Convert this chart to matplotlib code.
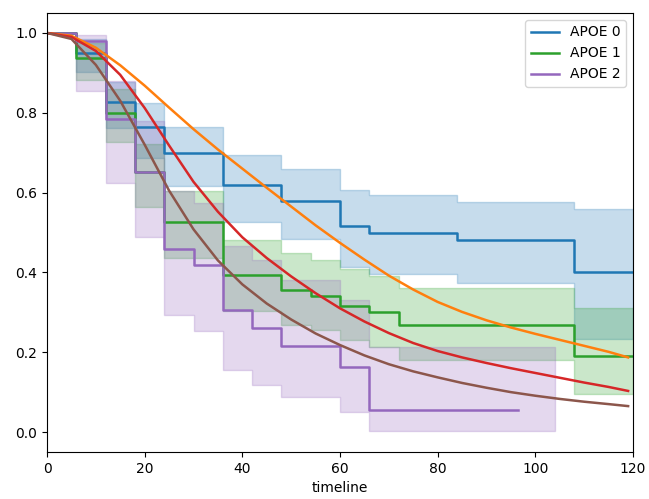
import matplotlib
matplotlib.use("Agg")
import matplotlib.pyplot as plt

# ---- Kaplan-Meier data ----
apoe0_t = [0, 6, 12, 18, 24, 36, 48, 60, 66, 84, 108, 120]
apoe0_s = [1.0, 0.951, 0.827, 0.765, 0.700, 0.620, 0.578, 0.517, 0.500, 0.480, 0.400, 0.400]
apoe0_hi = [1.0, 0.985, 0.878, 0.824, 0.765, 0.694, 0.660, 0.607, 0.594, 0.577, 0.558, 0.558]
apoe0_lo = [1.0, 0.903, 0.761, 0.687, 0.617, 0.527, 0.483, 0.414, 0.396, 0.373, 0.233, 0.233]

apoe1_t = [0, 6, 12, 18, 24, 36, 48, 54, 60, 66, 72, 108, 120]
apoe1_s = [1.0, 0.937, 0.800, 0.651, 0.526, 0.393, 0.357, 0.342, 0.317, 0.302, 0.268, 0.190, 0.190]
apoe1_hi = [1.0, 0.975, 0.860, 0.723, 0.605, 0.480, 0.448, 0.431, 0.408, 0.391, 0.360, 0.312, 0.312]
apoe1_lo = [1.0, 0.882, 0.728, 0.563, 0.435, 0.304, 0.268, 0.256, 0.231, 0.214, 0.180, 0.095, 0.095]

apoe2_t = [0, 6, 12, 18, 24, 30, 36, 42, 48, 60, 66, 96.4]
apoe2_s = [1.0, 0.981, 0.784, 0.652, 0.459, 0.419, 0.306, 0.260, 0.216, 0.162, 0.055, 0.055]
apoe2_ci_t = [0, 6, 12, 18, 24, 30, 36, 42, 48, 60, 66, 104]
apoe2_hi = [1.0, 0.995, 0.880, 0.779, 0.605, 0.573, 0.466, 0.431, 0.381, 0.331, 0.214, 0.214]
apoe2_lo = [1.0, 0.855, 0.623, 0.488, 0.293, 0.254, 0.155, 0.119, 0.087, 0.049, 0.003, 0.003]

# ---- smooth model curves ----
curve_t = [0, 5, 10, 15, 20, 25, 30, 35, 40, 45, 50, 55, 60, 65, 70, 75, 80,
           85, 90, 95, 100, 105, 110, 115, 119]
orange_s = [1.0, 0.993, 0.963, 0.919, 0.868, 0.813, 0.759, 0.708, 0.660, 0.612,
            0.565, 0.518, 0.474, 0.432, 0.392, 0.357, 0.326, 0.301, 0.280, 0.262,
            0.246, 0.231, 0.216, 0.201, 0.187]
red_s = [1.0, 0.99, 0.955, 0.895, 0.812, 0.718, 0.627, 0.552, 0.488, 0.436,
         0.390, 0.348, 0.310, 0.277, 0.248, 0.223, 0.203, 0.187, 0.173, 0.160,
         0.148, 0.136, 0.124, 0.113, 0.103]
brown_s = [1.0, 0.985, 0.92, 0.83, 0.72, 0.605, 0.508, 0.430, 0.370, 0.322,
           0.282, 0.247, 0.218, 0.192, 0.170, 0.152, 0.137, 0.123, 0.111, 0.100,
           0.091, 0.083, 0.076, 0.070, 0.065]

labels = ["APOE 0", "APOE 1", "APOE 2"]

fig = plt.figure(figsize=(6.49, 4.99), dpi=100)
ax = fig.add_axes([47 / 649, 47 / 499, 586 / 649, 439 / 499])

groups = [
    (apoe0_t, apoe0_s, apoe0_t, apoe0_lo, apoe0_hi, "#1f77b4", labels[0]),
    (apoe1_t, apoe1_s, apoe1_t, apoe1_lo, apoe1_hi, "#2ca02c", labels[1]),
    (apoe2_t, apoe2_s, apoe2_ci_t, apoe2_lo, apoe2_hi, "#9467bd", labels[2]),
]
handles = []
for t, s, ct, lo, hi, col, lab in groups:
    ax.fill_between(ct, lo, hi, step="post", color=col, alpha=0.25, linewidth=1.0)
for t, s, ct, lo, hi, col, lab in groups:
    h, = ax.step(t, s, where="post", color=col, linewidth=1.8, label=lab)
    handles.append(h)

ax.plot(curve_t, orange_s, color="#ff7f0e", linewidth=1.8)
ax.plot(curve_t, red_s, color="#d62728", linewidth=1.8)
ax.plot(curve_t, brown_s, color="#8c564b", linewidth=1.8)

ax.set_xlim(0, 120)
ax.set_ylim(-0.05, 1.05)
ax.set_xticks([0, 20, 40, 60, 80, 100, 120])
ax.set_yticks([0.0, 0.2, 0.4, 0.6, 0.8, 1.0])
ax.set_xlabel("timeline")
ax.legend(handles=handles, loc="upper right")

fig.savefig("out.png", dpi=100)
